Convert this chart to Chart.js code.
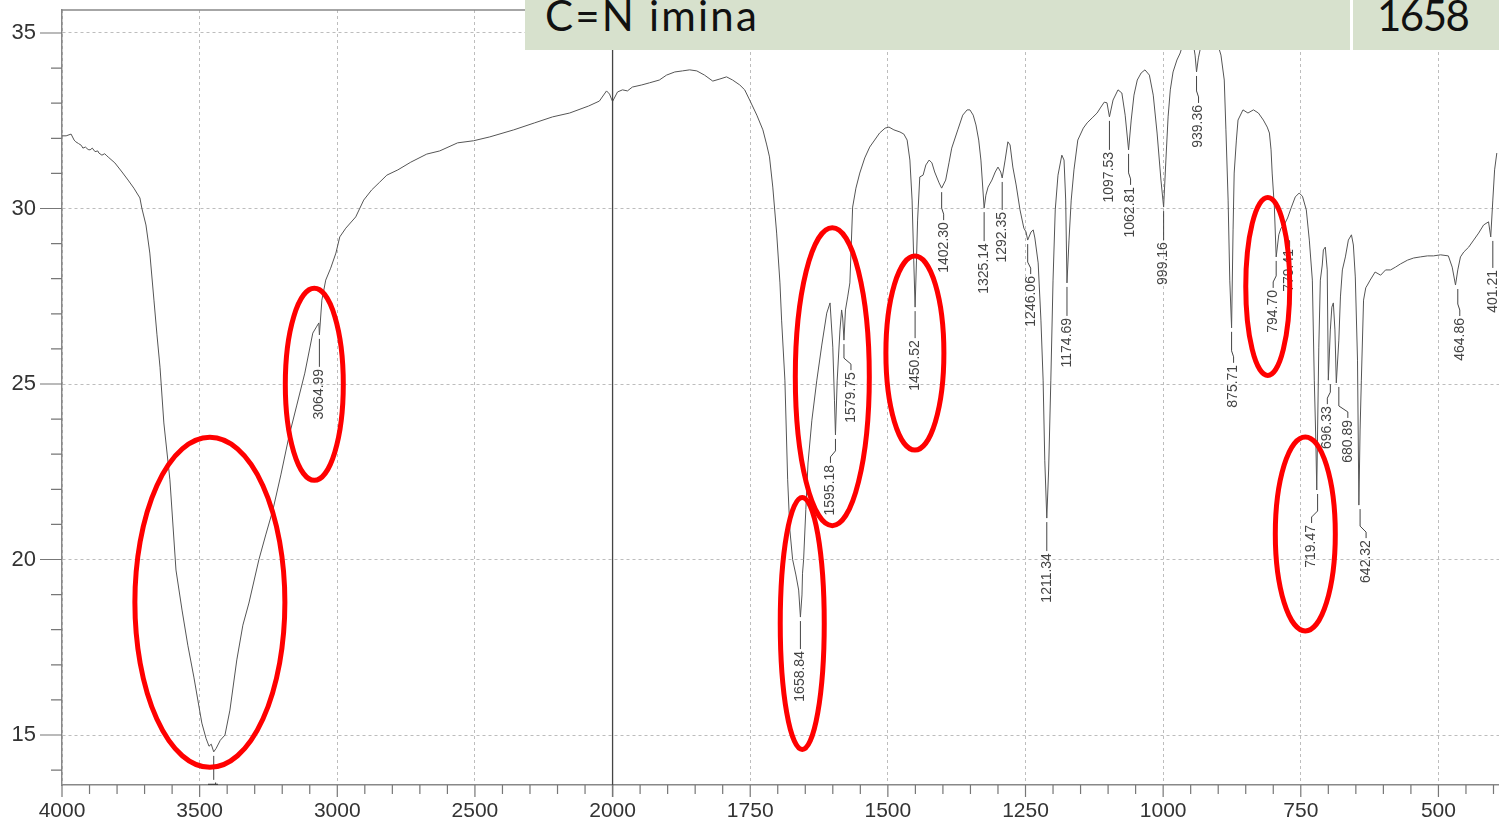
<!DOCTYPE html>
<html>
<head>
<meta charset="utf-8">
<script src="https://cdn.jsdelivr.net/npm/chart.js@4"></script>
<style>
    body { margin: 0; background: #fff; }
    #wrap { position: relative; width: 1499px; height: 827px; }
    #tbl { position: absolute; left: 525px; top: 0; width: 974px; height: 50px; background: #fff; overflow: hidden; }
    .cell { position: absolute; top: 0; height: 50px; background: #d7e1cd; color: #111;
            font-family: Lato, "Open Sans", sans-serif; font-size: 42px; line-height: 42px; white-space: nowrap; overflow: hidden; }
    .cell span { display: block; margin-top: -6px; }
</style>
</head>
<body>
<div id="wrap">
    <canvas id="irChart"></canvas>
    <div id="tbl">
        <div class="cell" style="left:0; width:825px; padding-left:20px; box-sizing:border-box;"><span style="letter-spacing:2.2px">C=N imina</span></div>
        <div class="cell" style="left:828px; width:146px; padding-left:24px; box-sizing:border-box;"><span style="letter-spacing:-1.5px">1658</span></div>
    </div>
</div>
<script>
    // espectro IR: número de onda (cm-1) y %T
    const wavenumber = [
        4000, 3985, 3967, 3956, 3950, 3940, 3930, 3924, 3915, 3905, 3898, 3890, 3880, 3870, 3866, 3855, 3845, 3837, 3830,
        3808, 3782, 3760, 3739, 3717, 3710, 3695, 3681, 3666, 3655, 3644, 3630, 3608, 3586, 3564, 3543, 3521, 3492,
        3477, 3466, 3458, 3448.84, 3440, 3425, 3408, 3390, 3365, 3343, 3321, 3285, 3260, 3234, 3205, 3176, 3147, 3118,
        3089, 3074, 3067, 3064.99, 3056, 3042, 3024, 3005, 2991, 2969, 2933, 2904, 2875, 2846, 2820, 2780, 2733, 2675,
        2628, 2563, 2505, 2446, 2359, 2283, 2218, 2156, 2087, 2048, 2022, 2011, 2004, 2000,
        1991, 1982, 1973, 1964, 1947, 1933, 1915, 1902, 1887, 1873, 1860, 1847, 1833, 1818, 1805, 1793, 1782, 1769,
        1760, 1751, 1738, 1727, 1720, 1715, 1709, 1702, 1696, 1693, 1687, 1682, 1678, 1673, 1667, 1662, 1658.84, 1656,
        1655, 1653, 1649, 1645, 1638, 1629, 1620, 1611, 1605, 1600, 1597, 1595.18, 1592, 1587, 1584, 1582, 1579.75,
        1577, 1573, 1569, 1564, 1558, 1551, 1542, 1533, 1524, 1515, 1505, 1498, 1489, 1478, 1471, 1465, 1460, 1456,
        1453, 1450.52, 1448, 1446, 1442, 1436, 1431, 1425, 1420, 1415, 1407, 1402.3, 1395, 1389, 1384, 1373, 1364,
        1356, 1351, 1345, 1340, 1335, 1331, 1325.14, 1322, 1318, 1311, 1305, 1300, 1295, 1292.35, 1287, 1282, 1278,
        1273, 1267, 1260, 1253, 1249, 1246.06, 1240, 1236, 1233, 1227, 1222, 1218, 1215, 1211.34, 1208, 1204, 1200,
        1196, 1191, 1184, 1180, 1177, 1174.69, 1171, 1167, 1162, 1155, 1145, 1138, 1129, 1120, 1113, 1107, 1102,
        1097.53, 1091, 1082, 1075, 1069, 1062.81, 1058, 1053, 1047, 1040, 1033, 1025, 1018, 1011, 1004, 999.16, 995,
        991, 987, 982, 975, 969, 962, 955, 947, 942, 939.36, 936, 931, 922, 911, 902, 895, 889, 886, 882, 879, 875.71,
        873, 871, 867, 864, 855, 846, 836, 827, 818, 811, 807, 804, 802, 798, 794.7, 790, 786, 782, 779.41, 774, 767,
        760, 753, 747, 740, 734.5, 729, 725.5, 722.7, 721, 719.47, 717.3, 714.5, 711, 709, 705.5, 702, 700, 696.33,
        693.6, 690.9, 688, 685.5, 680.89, 678, 674.5, 669, 663.6, 658, 654.5, 651, 647, 644.5, 642.32, 640, 636, 632,
        629, 624, 615, 605, 596, 587, 578, 569, 556, 545, 533, 520, 509, 496, 482, 475, 469, 464.86, 460, 454, 445,
        436, 427, 418, 409, 405, 401.21, 398, 394, 389
    ];
    const transmittance = [
        32.07, 32.07, 32.12, 31.95, 31.90, 31.85, 31.80, 31.72, 31.75, 31.68, 31.67, 31.72, 31.62, 31.64, 31.58, 31.52, 31.56, 31.50, 31.45,
        31.30, 31.04, 30.81, 30.58, 30.30, 30.01, 29.53, 28.73, 27.39, 26.40, 25.48, 23.89, 22.27, 19.70, 18.56, 17.56, 16.65, 15.34,
        14.91, 14.68, 14.74, 14.52, 14.62, 14.85, 15.00, 15.71, 17.14, 18.13, 18.76, 19.99, 20.70, 21.41, 22.41, 23.49, 24.40, 25.31,
        26.45, 26.65, 26.74, 26.40, 27.39, 27.96, 28.30, 28.73, 29.19, 29.44, 29.76, 30.24, 30.53, 30.75, 30.95, 31.10, 31.32, 31.55,
        31.64, 31.87, 31.93, 32.04, 32.24, 32.44, 32.61, 32.72, 32.92, 33.06, 33.35, 33.26, 33.12, 33.05,
        33.32, 33.38, 33.35, 33.46, 33.52, 33.58, 33.66, 33.80, 33.89, 33.92, 33.95, 33.92, 33.80, 33.63, 33.69, 33.75, 33.66, 33.52,
        33.38, 33.09, 32.66, 32.24, 31.81, 31.47, 30.61, 29.30, 27.88, 26.82, 25.11, 22.27, 20.84, 20.00, 19.56, 19.13, 18.36, 18.99,
        19.61, 20.00, 21.42, 22.75, 23.97, 25.11, 26.11, 27.02, 27.31, 26.05, 24.54, 23.55, 25.11, 26.54, 27.11, 26.88, 26.25,
        27.11, 27.48, 27.88, 30.04, 30.58, 31.01, 31.44, 31.75, 31.95, 32.15, 32.29, 32.32, 32.24, 32.18, 32.12, 31.95, 31.38, 30.24,
        28.53, 27.19, 28.53, 29.67, 30.90, 30.95, 31.24, 31.38, 31.30, 31.04, 30.73, 30.58, 30.81, 31.30, 31.72, 32.24, 32.66,
        32.81, 32.81, 32.66, 32.38, 31.95, 31.38, 30.01, 30.38, 30.61, 30.81, 31.04, 31.18, 31.04, 30.87, 31.38, 31.90, 31.81,
        31.18, 30.67, 29.96, 29.44, 29.33, 29.10, 29.33, 29.39, 29.16, 28.45, 26.82, 25.11, 22.83, 21.18, 22.55, 25.11, 27.96,
        29.96, 30.95, 31.52, 31.38, 30.24, 27.88, 29.10, 30.24, 31.10, 31.95, 32.29, 32.44, 32.58, 32.72, 32.89, 33.03, 33.01,
        32.61, 33.09, 33.38, 33.29, 32.66, 31.67, 32.52, 33.23, 33.66, 33.86, 33.95, 33.80, 33.23, 32.15, 30.81, 30.04, 31.38,
        32.61, 33.38, 33.89, 34.23, 34.43, 34.80, 35.00, 34.86, 34.37, 33.89, 34.29, 34.66, 34.86, 34.91, 34.74, 34.37, 33.66, 32.24, 30.24, 27.96, 26.60,
        29.39, 31.01, 31.95, 32.52, 32.81, 32.72, 32.81, 32.72, 32.52, 32.32, 32.15, 31.67, 31.01, 30.04, 28.62, 29.25, 29.44, 29.50, 29.56, 29.73, 30.04,
        30.33, 30.44, 30.35, 29.96, 29.10, 27.96, 25.11, 23.40, 21.98, 23.69, 26.05, 27.96, 28.39, 28.82, 28.90, 28.25, 25.11,
        26.54, 27.19, 27.31, 26.54, 25.03, 26.25, 27.48, 28.25, 28.62, 29.10, 29.25, 28.96, 28.05, 25.68, 21.55, 23.69, 25.11, 27.39,
        27.74, 27.82, 27.96, 28.19, 28.10, 28.25, 28.25, 28.33, 28.42, 28.53, 28.59, 28.62, 28.65, 28.65, 28.68, 28.65, 28.33, 27.82, 28.25, 28.62, 28.76,
        28.90, 29.10, 29.30, 29.53, 29.62, 29.19, 30.24, 31.10, 31.58
    ];

    // picos marcados
    const peakWavenumber = [3448.84, 3064.99, 1658.84, 1595.18, 1579.75, 1450.52, 1402.30, 1325.14, 1292.35, 1246.06, 1211.34, 1174.69,
        1097.53, 1062.81, 999.16, 939.36, 875.71, 794.70, 779.41, 719.47, 696.33, 680.89, 642.32, 464.86, 401.21];
    const peakValue = [14.52, 26.40, 18.36, 23.55, 26.25, 27.19, 30.58, 30.01, 30.87, 29.10, 21.18, 27.88,
        32.61, 31.67, 30.04, 33.89, 26.60, 28.62, 29.56, 21.98, 25.11, 25.03, 21.55, 27.82, 29.19];

    // bandas encerradas en rojo (centro en cm-1 / %T)
    const circledWavenumber = [3462.8, 3083.5, 1655.5, 1600.9, 1450.9, 810.0, 741.8];
    const circledValue = [18.78, 24.99, 18.18, 25.21, 25.88, 27.78, 20.73];

    // ejes
    const xMajor = [4000, 3500, 3000, 2500, 2000, 1750, 1500, 1250, 1000, 750, 500];
    const yMajor = [15, 20, 25, 30, 35];

    // estilo de etiquetas de picos y elipses (px)
    const labelDrop = [30, 34, 34, 30, 32, 33, 34, 35, 34, 36, 35, 35, 35, 37, 35, 33, 37, 33, 25, 35, 26, 37, 35, 33, 33];
    const labelShift = [0, 0, 0, -5, 7, 0, 2, 0, 0, 3, 0, 0, 0, 2, 0, 2, 2, -3, 5, -6, -3, 9, 6, 2, 0];
    const ringRadius = [[75, 165], [29, 96], [22, 126], [37, 149], [29, 97], [22, 89], [30, 97]];

    // eje x con cambio de escala en 2000 cm-1 (doble resolución por debajo)
    const U_MAX = 2610;
    function toU(w) { return w >= 2000 ? (4000 - w) / 2 : 1000 + (2000 - w); }
    function fromU(u) { return u <= 1000 ? 4000 - 2 * u : 2000 - (u - 1000); }

    class IrAxis extends Chart.LinearScale {
        getPixelForValue(w) { return this.getPixelForDecimal(toU(w) / U_MAX); }
        getValueForPixel(p) { return fromU(this.getDecimalForPixel(p) * U_MAX); }
    }
    IrAxis.id = 'irAxis';
    IrAxis.defaults = {};
    Chart.register(IrAxis);

    const xTicks = [];
    for (let u = 0; u <= 2600; u += 50) xTicks.push(fromU(u));
    const yTicks = [];
    for (let v = 14; v <= 35; v++) yTicks.push(v);

    const FONT = '"Liberation Sans", Arial, sans-serif';

    const marks = {
        id: 'marks',
        afterDatasetsDraw(chart) {
            const { ctx, chartArea: a, scales: { x, y } } = chart;

            // línea del cambio de escala
            const xb = x.getPixelForValue(2000);
            ctx.save();
            ctx.strokeStyle = '#444';
            ctx.lineWidth = 1.3;
            ctx.beginPath(); ctx.moveTo(xb, a.top); ctx.lineTo(xb, a.bottom + 12); ctx.stroke();
            ctx.restore();

            // etiquetas de picos
            ctx.save();
            ctx.beginPath();
            ctx.rect(a.left, a.top, a.right - a.left, a.bottom - a.top);
            ctx.clip();
            ctx.strokeStyle = '#444';
            ctx.fillStyle = '#444';
            ctx.lineWidth = 1;
            ctx.font = '14px ' + FONT;
            peakWavenumber.forEach((w, i) => {
                const px = x.getPixelForValue(w);
                const py = y.getPixelForValue(peakValue[i]);
                const top = py + labelDrop[i];
                const lx = px + labelShift[i];
                ctx.beginPath();
                ctx.moveTo(px, py + 4);
                if (labelShift[i]) {
                    ctx.lineTo(px, top - 14);
                    ctx.lineTo(lx, top - 8);
                }
                ctx.lineTo(lx, top - 2);
                ctx.stroke();
                ctx.save();
                ctx.translate(lx, top);
                ctx.rotate(-Math.PI / 2);
                ctx.textAlign = 'right';
                ctx.textBaseline = 'middle';
                ctx.fillText(w.toFixed(2), 0, 0);
                ctx.restore();
            });
            ctx.restore();

            // elipses rojas
            ctx.save();
            ctx.strokeStyle = '#ff0000';
            ctx.lineWidth = 5;
            circledWavenumber.forEach((w, i) => {
                ctx.beginPath();
                ctx.ellipse(x.getPixelForValue(w), y.getPixelForValue(circledValue[i]), ringRadius[i][0], ringRadius[i][1], 0, 0, Math.PI * 2);
                ctx.stroke();
            });
            ctx.restore();
        },
        afterDraw(chart) {
            const { ctx, chartArea: a, scales: { x, y } } = chart;
            ctx.save();
            ctx.strokeStyle = '#777';
            ctx.lineWidth = 1.2;
            ctx.beginPath();
            x.ticks.forEach(t => {
                const p = x.getPixelForValue(t.value);
                const len = xMajor.includes(t.value) ? 12 : 9;
                ctx.moveTo(p, a.bottom); ctx.lineTo(p, a.bottom + len);
            });
            y.ticks.forEach(t => {
                const p = y.getPixelForValue(t.value);
                const len = yMajor.includes(t.value) ? 22 : 11;
                ctx.moveTo(a.left - len, p); ctx.lineTo(a.left, p);
            });
            ctx.stroke();
            // marco superior
            ctx.strokeStyle = '#888';
            ctx.lineWidth = 1.5;
            ctx.beginPath(); ctx.moveTo(a.left, a.top); ctx.lineTo(a.right, a.top); ctx.stroke();
            ctx.restore();
        }
    };

    function noPad(s) {
        s.paddingTop = 0; s.paddingBottom = 0; s.paddingLeft = 0; s.paddingRight = 0;
    }

    new Chart(document.getElementById('irChart'), {
        type: 'line',
        data: {
            datasets: [{
                data: wavenumber.map((w, i) => ({ x: w, y: transmittance[i] })),
                borderColor: '#555',
                borderWidth: 1,
                pointRadius: 0,
                tension: 0,
                fill: false
            }]
        },
        options: {
            responsive: true,
            maintainAspectRatio: false,
            animation: false,
            layout: { padding: { top: 10, right: 0, bottom: 0, left: 0 } },
            plugins: { legend: { display: false }, tooltip: { enabled: false } },
            scales: {
                x: {
                    type: 'irAxis',
                    min: 389,
                    max: 4000,
                    afterBuildTicks: s => { s.ticks = xTicks.map(v => ({ value: v })); },
                    afterFit: s => { s.height = 42; noPad(s); },
                    grid: {
                        drawTicks: false,
                        color: c => xMajor.includes(c.tick && c.tick.value) ? '#bdbdbd' : 'rgba(0,0,0,0)',
                        lineWidth: 1
                    },
                    border: { display: true, color: '#888', width: 1.5, dash: [3, 3] },
                    ticks: {
                        autoSkip: false,
                        maxRotation: 0,
                        padding: 14,
                        color: '#333',
                        font: { family: FONT, size: 21 },
                        callback: v => xMajor.includes(v) ? String(v) : ''
                    }
                },
                y: {
                    type: 'linear',
                    min: 13.576,
                    max: 35.655,
                    afterBuildTicks: s => { s.ticks = yTicks.map(v => ({ value: v })); },
                    afterFit: s => { s.width = 62; noPad(s); },
                    grid: {
                        drawTicks: false,
                        color: c => yMajor.includes(c.tick && c.tick.value) ? '#bdbdbd' : 'rgba(0,0,0,0)',
                        lineWidth: 1
                    },
                    border: { display: true, color: '#888', width: 1.5, dash: [3, 3] },
                    ticks: {
                        padding: 26,
                        color: '#333',
                        font: { family: FONT, size: 22 },
                        callback: v => yMajor.includes(v) ? String(v) : ''
                    }
                }
            }
        },
        plugins: [marks]
    });
</script>
</body>
</html>
